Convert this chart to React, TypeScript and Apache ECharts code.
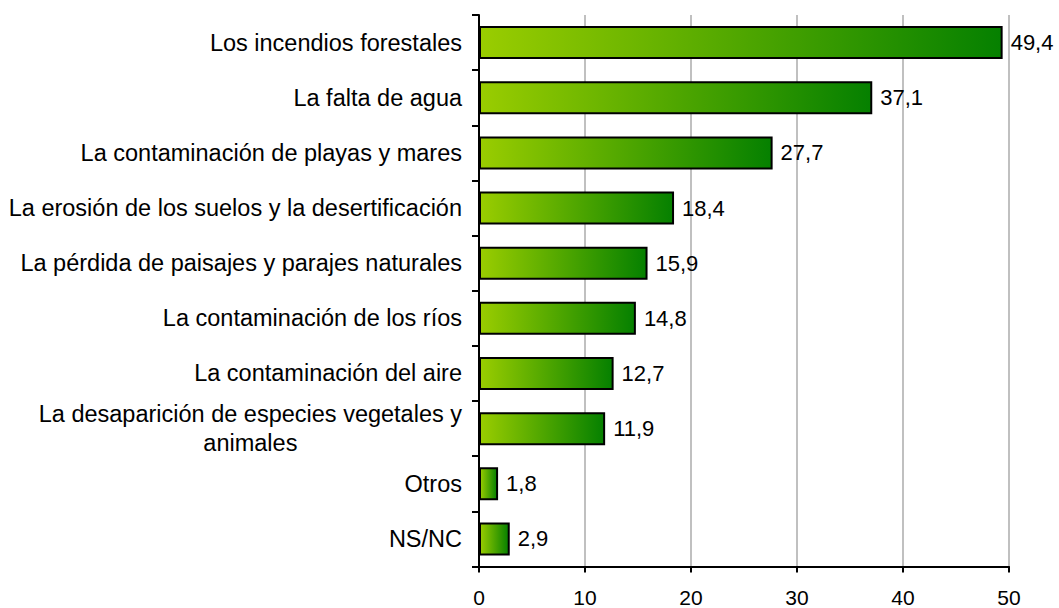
import React, { useEffect, useRef } from "react";
import * as echarts from "echarts";

const categories: string[] = [
  "Los incendios forestales",
  "La falta de agua",
  "La contaminación de playas y mares",
  "La erosión de los suelos y la desertificación",
  "La pérdida de paisajes y parajes naturales",
  "La contaminación de los ríos",
  "La contaminación del aire",
  "La desaparición de especies vegetales y\nanimales",
  "Otros",
  "NS/NC",
];

const values: number[] = [49.4, 37.1, 27.7, 18.4, 15.9, 14.8, 12.7, 11.9, 1.8, 2.9];

const xTicks = { min: 0, max: 50, interval: 10 };

const FONT = "'Liberation Sans', Arial, sans-serif";

export default function App() {
  const ref = useRef<HTMLDivElement>(null);
  useEffect(() => {
    if (!ref.current) return;
    const chart = echarts.init(ref.current, undefined, { renderer: "svg" });
    chart.setOption({
      animation: false,
      grid: { left: 479, right: 50, top: 15, bottom: 39, containLabel: false },
      xAxis: {
        type: "value",
        min: xTicks.min,
        max: xTicks.max,
        interval: xTicks.interval,
        axisLine: { show: true, lineStyle: { color: "#000", width: 2 } },
        axisTick: { show: true, length: 6, lineStyle: { color: "#000", width: 2 } },
        axisLabel: { color: "#000", fontSize: 21, fontFamily: FONT, margin: 23, lineHeight: 16 },
        splitLine: { show: true, lineStyle: { color: "#c0c0c0", width: 2 } },
      },
      yAxis: {
        type: "category",
        inverse: true,
        data: categories,
        axisLine: { show: true, lineStyle: { color: "#000", width: 2 } },
        axisTick: { show: true, length: 7, lineStyle: { color: "#000", width: 2 } },
        axisLabel: {
          color: "#000",
          fontSize: 23.5,
          fontFamily: FONT,
          margin: 17,
          lineHeight: 29,
          formatter: (v: string) =>
            v
              .split("\n")
              .map((l) => "{c|" + l + "}")
              .join("\n"),
          rich: {
            c: { align: "center", fontSize: 23.5, fontFamily: FONT, color: "#000", lineHeight: 29 },
          },
        },
        splitLine: { show: false },
      },
      series: [
        {
          type: "bar",
          data: values,
          barWidth: 33,
          itemStyle: {
            color: new echarts.graphic.LinearGradient(0, 0, 1, 0, [
              { offset: 0, color: "#9ACD00" },
              { offset: 1, color: "#058000" },
            ]),
            borderColor: "#000",
            borderWidth: 2,
          },
          label: {
            show: true,
            position: "right",
            distance: 8,
            color: "#000",
            fontSize: 22,
            fontFamily: FONT,
            formatter: (p: any) => String(p.value).replace(".", ","),
          },
        },
      ],
    });
    return () => chart.dispose();
  }, []);
  return (
    <div
      ref={ref}
      style={{ position: "fixed", left: 0, top: 0, width: 1059, height: 608, background: "#fff" }}
    />
  );
}
